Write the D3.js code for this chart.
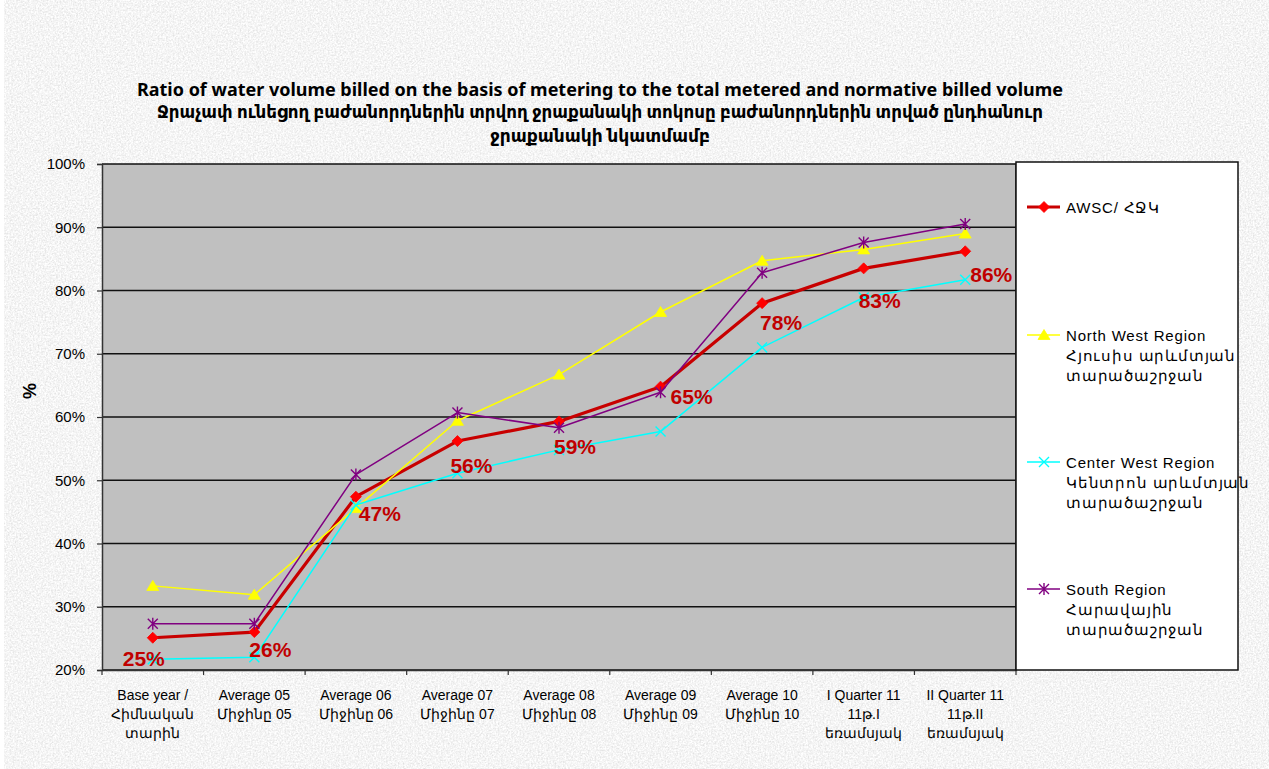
<!DOCTYPE html>
<html><head><meta charset="utf-8">
<script src="https://cdn.jsdelivr.net/npm/d3@7"></script>
<style>body{margin:0;background:#fff;overflow:hidden}</style>
</head><body>
<svg id="c" width="1269" height="769"></svg>
<script>
const titleLines = [
  "Ratio of water volume billed on the basis of metering to the total metered and normative billed volume",
  "Ջրաչափ ունեցող բաժանորդներին տրվող ջրաքանակի տոկոսը բաժանորդներին տրված ընդհանուր",
  "ջրաքանակի նկատմամբ"
];
const categories = ["Base year","Average 05","Average 06","Average 07","Average 08","Average 09","Average 10","I Quarter 11","II Quarter 11"];
const categoryLabels = [
  ["Base year /","Հիմնական","տարին"],
  ["Average 05","Միջինը 05"],
  ["Average 06","Միջինը 06"],
  ["Average 07","Միջինը 07"],
  ["Average 08","Միջինը 08"],
  ["Average 09","Միջինը 09"],
  ["Average 10","Միջինը 10"],
  ["I Quarter 11","11թ.I","եռամսյակ"],
  ["II Quarter 11","11թ.II","եռամսյակ"]
];
const awsc       = [25.1, 26.0, 47.4, 56.2, 59.3, 64.8, 78.0, 83.5, 86.2];
const northWest  = [33.3, 31.9, 45.6, 59.4, 66.7, 76.6, 84.7, 86.5, 89.0];
const centerWest = [21.7, 22.0, 46.1, 51.1, 54.8, 57.7, 71.0, 78.9, 81.7];
const south      = [27.3, 27.3, 50.9, 60.7, 58.3, 63.9, 82.8, 87.6, 90.5];
const awscLabels = ["25%","26%","47%","56%","59%","65%","78%","83%","86%"];
const yTicks = [20,30,40,50,60,70,80,90,100];
const yTickLabels = ["20%","30%","40%","50%","60%","70%","80%","90%","100%"];
const seriesNames = [
  ["AWSC/ ՀՋԿ"],
  ["North West Region","Հյուսիս արևմտյան","տարածաշրջան"],
  ["Center West Region","Կենտրոն արևմտյան","տարածաշրջան"],
  ["South Region","Հարավային","տարածաշրջան"]
];
const yAxisTitle = "%";

// label placement offsets (layout, not data)
const labelOffsets = [[-9,28],[16,25],[24,24],[14,32],[16,33],[31,17],[19,27],[16,40],[26,31]];

const svg = d3.select("#c");
const W = 1269, H = 769;
const plot = {l:102, r:1016, t:164, b:670};

// textured background
const defs = svg.append("defs");
const f = defs.append("filter").attr("id","tex").attr("x",0).attr("y",0).attr("width","100%").attr("height","100%");
f.append("feTurbulence").attr("type","fractalNoise").attr("baseFrequency",0.6).attr("numOctaves",3).attr("seed",4).attr("result","n");
f.append("feColorMatrix").attr("in","n").attr("type","matrix")
  .attr("values","0.42 0 0 0 0.70  0.42 0 0 0 0.70  0.42 0 0 0 0.70  0 0 0 0 1");
svg.append("rect").attr("x",0).attr("y",0).attr("width",W).attr("height",H).attr("fill","#fff");
svg.append("rect").attr("x",4).attr("y",0).attr("width",W-4).attr("height",H).attr("filter","url(#tex)");

const x = d3.scaleBand().domain(categories).range([plot.l, plot.r]);
const y = d3.scaleLinear().domain([20,100]).range([plot.b, plot.t]);
const cx = i => x(categories[i]) + x.bandwidth()/2;

// plot area
svg.append("rect").attr("x",plot.l).attr("y",plot.t).attr("width",plot.r-plot.l).attr("height",plot.b-plot.t).attr("fill","#c0c0c0");

// gridlines
svg.append("g").selectAll("line").data(yTicks).join("line")
  .attr("x1",plot.l).attr("x2",plot.r).attr("y1",d=>y(d)).attr("y2",d=>y(d))
  .attr("stroke","#111").attr("stroke-width",1.6);

// y axis
const yAxis = d3.axisLeft(y).tickValues(yTicks).tickSize(5).tickPadding(12)
  .tickFormat((d,i)=>yTickLabels[i]);
const gy = svg.append("g").attr("transform",`translate(${plot.l},0)`).call(yAxis);
gy.select(".domain").attr("stroke","#333").attr("stroke-width",1.5);
gy.selectAll(".tick line").attr("stroke","#333").attr("stroke-width",1.2);
gy.selectAll("text").attr("font-family","Liberation Sans, Arial, sans-serif").attr("font-size",15).attr("fill","#000");

// x axis
const xAxis = d3.axisBottom(x).tickSize(0).tickFormat("");
const gx = svg.append("g").attr("transform",`translate(0,${plot.b})`).call(xAxis);
gx.select(".domain").attr("stroke","#333").attr("stroke-width",1.5);
// boundary ticks
const bounds = categories.map(c=>x(c)).concat([plot.r]);
svg.append("g").selectAll("line").data(bounds).join("line")
  .attr("x1",d=>d).attr("x2",d=>d).attr("y1",plot.b).attr("y2",plot.b+5)
  .attr("stroke","#333").attr("stroke-width",1.2);
// x labels
const xl = svg.append("g").attr("font-family","Liberation Sans, Noto Sans, Arial, sans-serif").attr("font-size",14).attr("fill","#000").attr("text-anchor","middle");
categoryLabels.forEach((lines,i)=>{
  lines.forEach((s,j)=>{
    xl.append("text").attr("x",cx(i)).attr("y",plot.b+30+j*19).text(s);
  });
});
// right border
svg.append("line").attr("x1",plot.r).attr("x2",plot.r).attr("y1",plot.t).attr("y2",plot.b).attr("stroke","#222").attr("stroke-width",1.5);

// y axis title
svg.append("text").attr("transform","translate(36,391) rotate(-90)").attr("text-anchor","middle")
  .attr("font-family","Liberation Sans, Arial, sans-serif").attr("font-weight","bold").attr("font-size",18).text(yAxisTitle);

// title
const tt = svg.append("g").attr("font-family","Liberation Sans Narrow, Noto Sans, DejaVu Sans, sans-serif").attr("font-weight","bold").attr("font-size",17).attr("text-anchor","middle").attr("fill","#000");
const titleW = [926, 886, 220];
const titleY = [96, 118, 142];
titleLines.forEach((s,i)=>{
  tt.append("text").attr("x",600).attr("y",titleY[i]).attr("textLength",titleW[i]).attr("lengthAdjust","spacingAndGlyphs").text(s);
});

// markers
function marker(g, type, color, px, py){
  if(type==="diamond"){
    const s=5.5;
    g.append("path").attr("d",`M${px},${py-s}L${px+s},${py}L${px},${py+s}L${px-s},${py}Z`).attr("fill","#ff0000").attr("stroke","#ff0000").attr("stroke-width",0.8);
  } else if(type==="triangle"){
    const s=5.5;
    g.append("path").attr("d",`M${px},${py-s}L${px+s+0.5},${py+s-1}L${px-s-0.5},${py+s-1}Z`).attr("fill","#ffff00").attr("stroke","#ffff00").attr("stroke-width",0.8);
  } else if(type==="x"){
    const s=5;
    g.append("path").attr("d",`M${px-s},${py-s}L${px+s},${py+s}M${px-s},${py+s}L${px+s},${py-s}`).attr("stroke",color).attr("stroke-width",1.4).attr("fill","none");
  } else if(type==="star"){
    const s=5;
    g.append("path").attr("d",`M${px-s},${py-s}L${px+s},${py+s}M${px-s},${py+s}L${px+s},${py-s}M${px},${py-s-1}L${px},${py+s+1}`).attr("stroke",color).attr("stroke-width",1.4).attr("fill","none");
  }
}

const series = [
  {vals:awsc, color:"#c80000", width:3.2, marker:"diamond"},
  {vals:northWest, color:"#ffff00", width:1.5, marker:"triangle"},
  {vals:centerWest, color:"#00ffff", width:1.5, marker:"x"},
  {vals:south, color:"#800080", width:1.5, marker:"star"}
];
const line = d3.line().x((d,i)=>cx(i)).y(d=>y(d));
series.forEach(s=>{
  const g = svg.append("g");
  g.append("path").attr("d",line(s.vals)).attr("fill","none").attr("stroke",s.color).attr("stroke-width",s.width).attr("stroke-linejoin","round");
  s.vals.forEach((v,i)=>marker(g,s.marker,s.color,cx(i),y(v)));
});

// data labels
svg.append("g").selectAll("text").data(awsc).join("text")
  .attr("x",(d,i)=>cx(i)+labelOffsets[i][0]).attr("y",(d,i)=>y(d)+labelOffsets[i][1])
  .attr("text-anchor","middle").attr("font-family","Liberation Sans, Arial, sans-serif").attr("font-weight","bold")
  .attr("font-size",21).attr("fill","#c00000").text((d,i)=>awscLabels[i]);

// legend
const lg = svg.append("g");
lg.append("rect").attr("x",plot.r).attr("y",162).attr("width",222).attr("height",508).attr("fill","#fff").attr("stroke","#111").attr("stroke-width",1.5);
const legY = [207, 335, 462, 589];
seriesNames.forEach((lines,k)=>{
  const s = series[k];
  const ly = legY[k];
  lg.append("line").attr("x1",1027).attr("x2",1060).attr("y1",ly).attr("y2",ly).attr("stroke",s.color).attr("stroke-width",s.width);
  marker(lg,s.marker,s.color,1044,ly);
  lines.forEach((t,j)=>{
    lg.append("text").attr("x",1066).attr("y",ly+6+j*20).attr("font-family","Liberation Sans, Noto Sans, Arial, sans-serif")
      .attr("font-size",15).attr("letter-spacing",0.8).attr("fill","#000").text(t);
  });
});
</script>
</body></html>
